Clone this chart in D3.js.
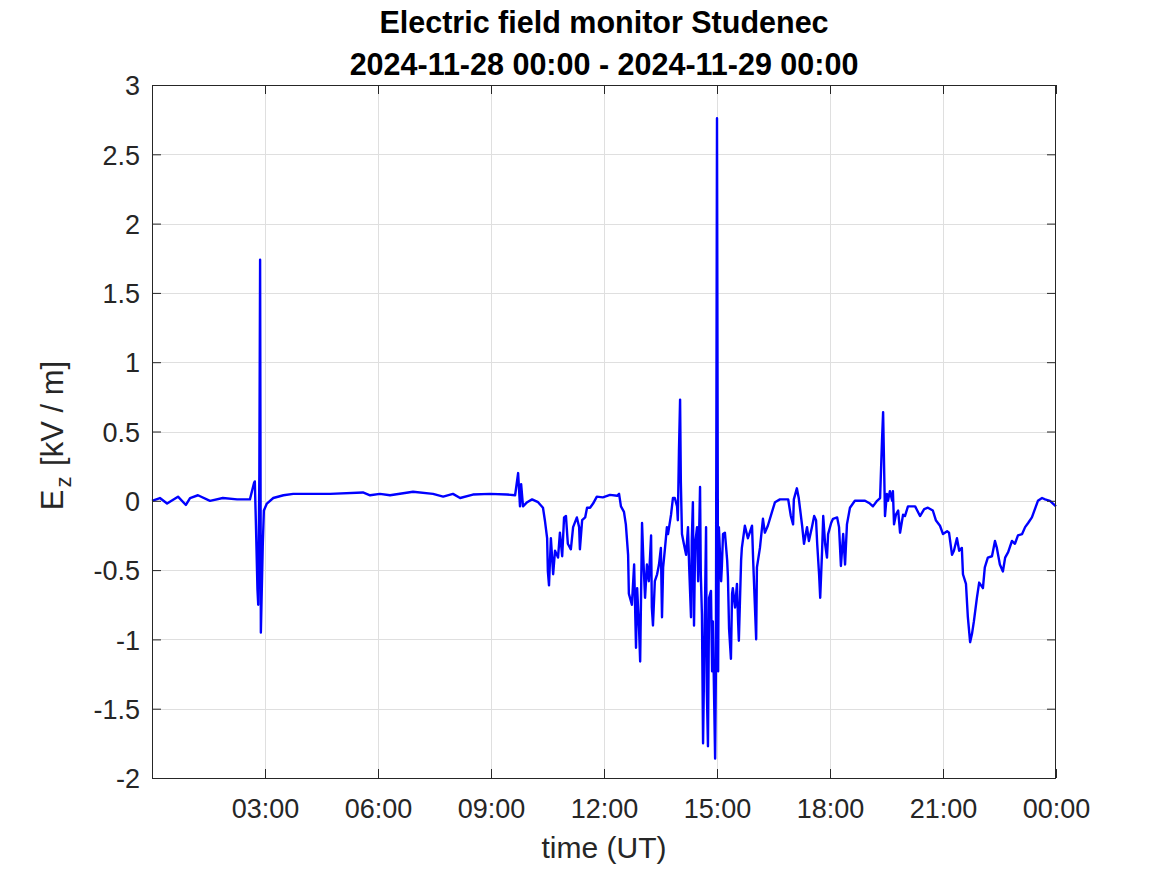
<!DOCTYPE html>
<html>
<head>
<meta charset="utf-8">
<script src="https://cdn.jsdelivr.net/npm/d3@7"></script>
<style>
html,body{margin:0;padding:0;background:#fff;}
svg{display:block;font-family:"Liberation Sans",Arial,Helvetica,sans-serif;}
</style>
</head>
<body>
<svg id="chart" width="1167" height="875"></svg>
<script>
// ---- data (hours since 2024-11-28 00:00 UT, Ez in kV/m) ----
const hours = [0.00,0.21,0.40,0.69,0.90,1.01,1.22,1.54,1.88,2.26,2.60,2.71,2.73,2.76,2.80,2.82,2.85,2.87,2.89,2.94,2.97,3.05,3.22,3.49,3.75,
4.12,4.73,5.60,5.79,6.05,6.32,6.93,7.46,7.73,7.99,8.18,8.52,8.97,9.42,9.64,9.72,9.77,9.80,9.85,9.96,10.09,10.25,
10.38,10.43,10.49,10.51,10.54,10.59,10.65,10.70,10.78,10.83,10.89,10.94,10.99,11.04,11.12,11.18,11.28,11.34,11.36,11.42,11.50,11.55,11.63,11.71,11.81,11.97,
12.16,12.35,12.40,12.45,12.53,12.58,12.64,12.66,12.74,12.80,12.85,12.88,12.93,12.96,13.01,13.04,13.09,13.14,13.19,13.25,13.27,13.30,13.35,13.41,13.46,13.51,13.54,13.57,13.62,13.67,13.70,13.78,13.83,13.88,13.94,13.96,13.99,
14.02,14.04,14.07,14.12,14.18,14.23,14.26,14.31,14.33,14.36,14.39,14.42,14.47,14.50,14.55,14.57,14.60,14.63,14.68,14.71,14.73,14.76,14.79,14.84,14.87,14.89,14.95,14.97,
15.00,15.03,15.05,15.11,15.13,15.16,15.21,15.27,15.29,15.32,15.37,15.40,15.42,15.48,15.53,15.56,15.58,15.64,15.66,15.74,15.82,15.93,15.96,
16.04,16.06,16.14,16.22,16.27,16.35,16.46,16.54,16.67,16.89,16.96,17.02,17.04,17.12,17.17,17.26,17.31,17.39,17.44,17.52,17.58,17.63,17.66,17.71,17.74,17.79,17.82,17.87,17.92,17.95,
18.03,18.08,18.19,18.24,18.29,18.35,18.40,18.45,18.53,18.66,18.80,18.93,19.06,19.14,19.25,19.33,19.38,19.41,19.46,19.51,19.54,19.59,19.65,19.67,19.70,19.75,19.81,19.86,19.94,19.99,
20.07,20.18,20.26,20.39,20.50,20.60,20.73,20.81,20.92,21.00,21.11,21.16,21.24,21.29,21.37,21.43,21.50,21.53,21.61,21.66,21.72,21.77,21.82,21.90,21.96,
22.06,22.11,22.19,22.30,22.38,22.43,22.51,22.59,22.65,22.73,22.83,22.91,22.99,23.10,23.18,23.26,23.36,23.44,23.52,23.63,23.71,23.84,24.00];

const ez = [0.00,0.02,-0.02,0.03,-0.03,0.02,0.04,0.00,0.02,0.01,0.01,0.13,0.14,-0.18,-0.64,-0.75,0.20,1.74,-0.95,-0.33,-0.07,-0.02,0.02,0.04,0.05,
0.05,0.05,0.06,0.04,0.05,0.04,0.065,0.05,0.03,0.05,0.02,0.045,0.05,0.045,0.04,0.20,-0.04,0.12,-0.04,-0.01,0.01,-0.01,
-0.05,-0.14,-0.27,-0.51,-0.61,-0.27,-0.53,-0.36,-0.41,-0.23,-0.40,-0.12,-0.11,-0.31,-0.35,-0.19,-0.12,-0.19,-0.35,-0.14,-0.12,-0.05,-0.05,-0.02,0.03,0.025,
0.043,0.036,0.05,-0.04,-0.08,-0.17,-0.39,-0.67,-0.75,-0.46,-1.06,-0.63,-0.92,-1.16,-0.16,-0.39,-0.70,-0.46,-0.58,-0.25,-0.77,-0.90,-0.58,-0.53,-0.46,-0.34,-0.84,-0.48,-0.34,-0.19,-0.24,-0.10,0.02,0.02,-0.04,-0.14,0.36,
0.73,0.14,-0.24,-0.31,-0.39,-0.19,-0.47,-0.84,-0.29,-0.01,-0.90,-0.31,-0.19,-0.58,0.10,-0.53,-0.82,-1.75,-0.77,-0.19,-1.37,-1.77,-0.70,-0.65,-1.23,-0.87,-1.86,-1.25,
2.76,-1.23,-0.19,-0.58,-0.47,-0.24,-0.23,-0.43,-0.55,-0.92,-1.14,-0.67,-0.63,-0.77,-0.60,-0.87,-1.01,-0.43,-0.34,-0.18,-0.27,-0.18,-0.43,
-1.00,-0.48,-0.34,-0.13,-0.23,-0.18,-0.08,-0.01,0.01,0.01,-0.11,-0.17,0.01,0.09,0.02,-0.18,-0.31,-0.19,-0.29,-0.19,-0.11,-0.14,-0.31,-0.53,-0.70,-0.36,-0.11,-0.31,-0.41,-0.24,
-0.16,-0.13,-0.12,-0.19,-0.47,-0.24,-0.46,-0.17,-0.05,0.00,0.00,0.00,-0.02,-0.04,0.00,0.02,0.43,0.64,-0.11,0.05,0.00,0.07,0.00,0.07,-0.17,-0.10,-0.07,-0.23,-0.10,-0.11,
-0.04,-0.04,-0.04,-0.11,-0.06,-0.05,-0.07,-0.14,-0.18,-0.24,-0.22,-0.23,-0.39,-0.36,-0.27,-0.36,-0.34,-0.53,-0.60,-0.84,-1.02,-0.96,-0.87,-0.70,-0.59,
-0.63,-0.48,-0.41,-0.40,-0.29,-0.34,-0.46,-0.51,-0.41,-0.37,-0.29,-0.31,-0.25,-0.24,-0.19,-0.16,-0.12,-0.06,0.00,0.02,0.01,0.00,-0.04];

const xTickHours = [3,6,9,12,15,18,21,24];
const xTickLabels = ["03:00","06:00","09:00","12:00","15:00","18:00","21:00","00:00"];
const yTicks = [-2,-1.5,-1,-0.5,0,0.5,1,1.5,2,2.5,3];
const titleLines = ["Electric field monitor Studenec","2024-11-28 00:00 - 2024-11-29 00:00"];
const xLabel = "time (UT)";

// ---- layout ----
const L = 152, R = 1056, T = 85, B = 778;
const axisColor = "#262626";
const svg = d3.select("#chart");

const x = d3.scaleLinear().domain([0,24]).range([L,R]);
const y = d3.scaleLinear().domain([-2,3]).range([B,T]);

// grid
const grid = svg.append("g").attr("stroke","#dfdfdf").attr("stroke-width",1);
grid.selectAll("line.gx").data(xTickHours.filter(h=>h>0&&h<24)).join("line")
  .attr("x1",d=>Math.round(x(d))+0.5).attr("x2",d=>Math.round(x(d))+0.5)
  .attr("y1",T).attr("y2",B);
grid.selectAll("line.gy").data(yTicks.filter(v=>v>-2&&v<3)).join("line")
  .attr("class","gy")
  .attr("y1",d=>Math.round(y(d))+0.5).attr("y2",d=>Math.round(y(d))+0.5)
  .attr("x1",L).attr("x2",R);

// data line
const line = d3.line().x((d,i)=>x(hours[i])).y(d=>y(d));
svg.append("path").datum(ez)
  .attr("d",line)
  .attr("fill","none")
  .attr("stroke","#0000ff")
  .attr("stroke-width",2.4)
  .attr("stroke-linejoin","round");

// axes
const fmtX = d => xTickLabels[xTickHours.indexOf(d)];
const fmtY = d => String(d);
const fontTick = 27;

const gx = svg.append("g").attr("transform",`translate(0,${B})`)
  .call(d3.axisBottom(x).tickValues(xTickHours).tickFormat(fmtX).tickSizeInner(-9).tickSizeOuter(0).tickPadding(21));
const gxt = svg.append("g").attr("transform",`translate(0,${T})`)
  .call(d3.axisTop(x).tickValues(xTickHours).tickFormat("").tickSizeInner(-9).tickSizeOuter(0));
const gy = svg.append("g").attr("transform",`translate(${L},0)`)
  .call(d3.axisLeft(y).tickValues(yTicks).tickFormat(fmtY).tickSizeInner(-9).tickSizeOuter(0).tickPadding(12));
const gyr = svg.append("g").attr("transform",`translate(${R},0)`)
  .call(d3.axisRight(y).tickValues(yTicks).tickFormat("").tickSizeInner(-9).tickSizeOuter(0));

[gx,gxt,gy,gyr].forEach(g=>{
  g.select(".domain").remove();
  g.selectAll(".tick line").attr("stroke",axisColor).attr("stroke-width",1);
  g.selectAll(".tick text").attr("fill",axisColor).attr("font-size",fontTick)
    .attr("font-family","'Liberation Sans',Arial,Helvetica,sans-serif");
});
gy.selectAll(".tick text").attr("dy","0.36em");

// box
svg.append("rect").attr("x",L+0.5).attr("y",T+0.5).attr("width",R-L-1).attr("height",B-T)
  .attr("fill","none").attr("stroke",axisColor).attr("stroke-width",1);

// x label
svg.append("text").attr("x",(L+R)/2).attr("y",858).attr("text-anchor","middle")
  .attr("font-size",30).attr("fill",axisColor).text(xLabel);

// y label with subscript
const yl = svg.append("text").attr("transform",`translate(63,${(T+B)/2 + 4}) rotate(-90)`)
  .attr("text-anchor","middle").attr("font-size",31).attr("fill",axisColor);
yl.append("tspan").text("E");
yl.append("tspan").attr("font-size",22).attr("dy",8).attr("dx",2).text("z");
yl.append("tspan").attr("dy",-8).attr("dx",2).text(" [kV / m]");

// title
svg.append("text").attr("x",(L+R)/2).attr("y",33).attr("text-anchor","middle")
  .attr("font-size",30.5).attr("font-weight","bold").attr("fill","#000").text(titleLines[0]);
svg.append("text").attr("x",(L+R)/2).attr("y",75).attr("text-anchor","middle")
  .attr("font-size",30.5).attr("font-weight","bold").attr("fill","#000").text(titleLines[1]);
</script>
</body>
</html>
